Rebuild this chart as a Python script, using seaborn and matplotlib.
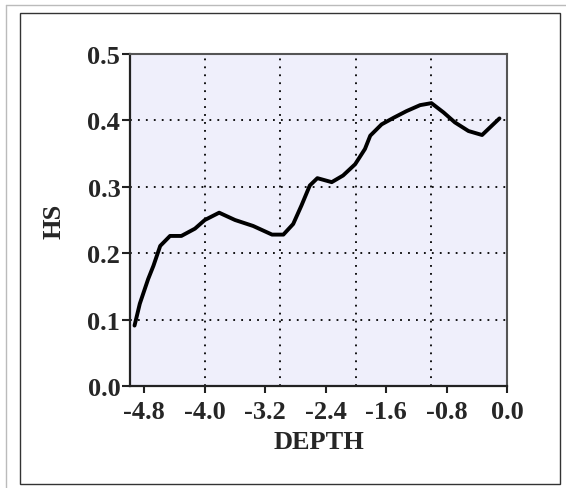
# Depth profile of HS, redrawn with seaborn
import numpy as np
import pandas as pd
import matplotlib
matplotlib.use("Agg")
import matplotlib.pyplot as plt
import seaborn as sns
from matplotlib.patches import Rectangle
from matplotlib.lines import Line2D

# values
depth = [-4.93, -4.86, -4.75, -4.68, -4.59, -4.46, -4.31, -4.13, -4.0, -3.81,
         -3.60, -3.36, -3.11, -2.96, -2.83, -2.72, -2.61, -2.51, -2.32, -2.17,
         -2.01, -1.88, -1.81, -1.66, -1.50, -1.33, -1.15, -1.0, -0.84, -0.69,
         -0.51, -0.33, -0.10]
hs = [0.091, 0.124, 0.161, 0.181, 0.211, 0.226, 0.226, 0.237, 0.250, 0.261,
      0.250, 0.241, 0.228, 0.228, 0.244, 0.272, 0.302, 0.313, 0.307, 0.317,
      0.334, 0.357, 0.377, 0.394, 0.404, 0.414, 0.423, 0.426, 0.412, 0.397,
      0.384, 0.378, 0.403]

x_ticks = [-4.8, -4.0, -3.2, -2.4, -1.6, -0.8, 0.0]
x_grid = [-4.0, -3.0, -2.0, -1.0]
y_ticks = [0.0, 0.1, 0.2, 0.3, 0.4, 0.5]

df = pd.DataFrame({"DEPTH": depth, "HS": hs})

sns.set_style("ticks")
plt.rcParams["font.family"] = ["Liberation Serif", "DejaVu Serif"]
plt.rcParams["font.weight"] = "bold"

fig = plt.figure(figsize=(5.66, 4.89), dpi=100)
ax = fig.add_axes([130 / 566, 102 / 489, 377 / 566, 332 / 489])
ax.set_facecolor("#efeffb")

sns.lineplot(data=df, x="DEPTH", y="HS", ax=ax, color="black", linewidth=2.8,
             estimator=None, sort=False)

ax.set_xlim(-4.99, 0.0)
ax.set_ylim(0.0, 0.5)
ax.set_xticks(x_ticks)
ax.set_xticklabels([f"{v:.1f}" for v in x_ticks])
ax.set_yticks(y_ticks)
ax.set_yticklabels([f"{v:.1f}" for v in y_ticks])
ax.set_xticks(x_grid, minor=True)
ax.xaxis.remove_overlapping_locs = False  # keep the minor grid line at -4.0

# dotted grid: horizontal on inner y ticks, vertical on whole depths
dots = (0, (1, 3.4))
ax.grid(False)
ax.yaxis.grid(True, which="major", color="black", linestyle=dots, linewidth=1.3)
ax.xaxis.grid(True, which="minor", color="black", linestyle=dots, linewidth=1.3)
ax.get_ygridlines()[0].set_visible(False)
ax.get_ygridlines()[-1].set_visible(False)

ax.tick_params(axis="both", which="major", labelsize=19, width=1.5,
               color="#222222", direction="out")
ax.tick_params(axis="x", which="major", length=5, pad=5)
ax.tick_params(axis="y", which="major", length=6, pad=1)
ax.tick_params(axis="x", which="minor", length=0)

for side in ["left", "bottom"]:
    ax.spines[side].set_color("#222222")
    ax.spines[side].set_linewidth(1.6)
for side in ["top", "right"]:
    ax.spines[side].set_visible(True)
    ax.spines[side].set_color("#555555")
    ax.spines[side].set_linewidth(1.5)

ax.set_xlabel("DEPTH", fontsize=19, fontweight="bold", va="center")
ax.set_ylabel("HS", fontsize=19, fontweight="bold", va="center")
ax.xaxis.set_label_coords(0.5, -0.166)
ax.yaxis.set_label_coords(-0.202, 0.5)

# frames around the figure
fig.patches.append(Rectangle((20 / 566, 4 / 489), 540 / 566, 471 / 489,
                             transform=fig.transFigure, fill=False,
                             edgecolor="#333333", linewidth=1.0))
fig.lines.append(Line2D([6 / 566, 6 / 566], [0, 483 / 489], transform=fig.transFigure,
                        color="#bbbbbb", linewidth=1.0))
fig.lines.append(Line2D([6 / 566, 1], [483 / 489, 483 / 489], transform=fig.transFigure,
                        color="#bbbbbb", linewidth=1.0))

fig.savefig("out.png", dpi=100)
